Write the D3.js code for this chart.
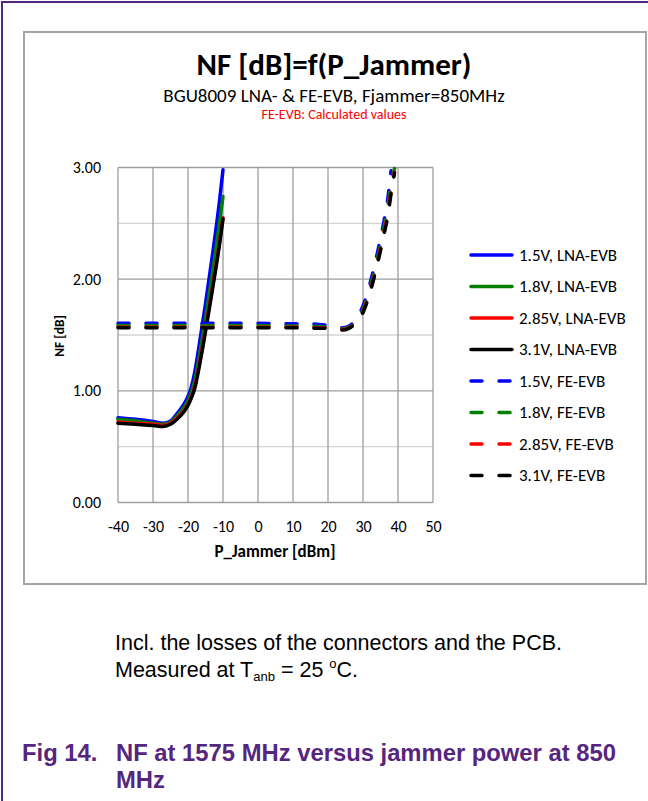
<!DOCTYPE html>
<html>
<head>
<meta charset="utf-8">
<script src="https://cdn.jsdelivr.net/npm/d3@7"></script>
<style>
  html, body { margin: 0; padding: 0; background: #fff; }
  svg { display: block; }
</style>
</head>
<body>
<svg id="chart" width="648" height="801"></svg>
<script>
// ---------- data ----------
const xTicks = [-40, -30, -20, -10, 0, 10, 20, 30, 40, 50];
const yTicks = [0, 1, 2, 3];
const yMinor = [0.5, 1.5, 2.5];

const lnaX = [-40, -35, -30, -27, -25, -23, -21, -20, -19, -18, -17, -15, -13, -11, -10];
const lna15 = [0.76, 0.745, 0.725, 0.71, 0.73, 0.80, 0.89, 0.95, 1.04, 1.18, 1.37, 1.78, 2.22, 2.70, 2.98];
const lna18 = [0.745, 0.73, 0.71, 0.70, 0.72, 0.78, 0.86, 0.91, 0.99, 1.10, 1.27, 1.65, 2.06, 2.50, 2.74];
const lna285 = [0.72, 0.71, 0.70, 0.69, 0.71, 0.76, 0.83, 0.88, 0.95, 1.05, 1.20, 1.55, 1.93, 2.33, 2.55];
const lna31 = [0.71, 0.70, 0.69, 0.68, 0.70, 0.75, 0.82, 0.87, 0.94, 1.03, 1.18, 1.53, 1.91, 2.31, 2.54];

const feX = [-40, -30, -20, -10, 0, 10, 15, 20, 24, 26, 28, 30, 32, 34, 36, 37, 38, 39];
const fe15 = [1.605, 1.605, 1.605, 1.605, 1.605, 1.60, 1.60, 1.585, 1.565, 1.58, 1.64, 1.76, 1.96, 2.22, 2.52, 2.70, 2.97, null];
const fe18 = [1.585, 1.585, 1.585, 1.585, 1.585, 1.58, 1.58, 1.57, 1.555, 1.57, 1.62, 1.73, 1.92, 2.17, 2.46, 2.64, 2.84, 2.99];
const fe285 = [1.57, 1.57, 1.57, 1.57, 1.57, 1.57, 1.565, 1.565, 1.55, 1.565, 1.615, 1.71, 1.89, 2.13, 2.42, 2.57, 2.78, 2.96];
const fe31 = [1.565, 1.565, 1.565, 1.565, 1.565, 1.565, 1.56, 1.56, 1.545, 1.56, 1.61, 1.70, 1.88, 2.12, 2.40, 2.55, 2.76, 2.95];

const seriesNames = ["1.5V, LNA-EVB", "1.8V, LNA-EVB", "2.85V, LNA-EVB", "3.1V, LNA-EVB",
                     "1.5V, FE-EVB", "1.8V, FE-EVB", "2.85V, FE-EVB", "3.1V, FE-EVB"];
const seriesColors = ["#0000ff", "#008000", "#ff0000", "#000000",
                      "#0000ff", "#008000", "#ff0000", "#000000"];

const series = [
  { name: seriesNames[0], x: lnaX, y: lna15, color: seriesColors[0], dashed: false },
  { name: seriesNames[1], x: lnaX, y: lna18, color: seriesColors[1], dashed: false },
  { name: seriesNames[2], x: lnaX, y: lna285, color: seriesColors[2], dashed: false },
  { name: seriesNames[3], x: lnaX, y: lna31, color: seriesColors[3], dashed: false },
  { name: seriesNames[4], x: feX, y: fe15, color: seriesColors[4], dashed: true },
  { name: seriesNames[5], x: feX, y: fe18, color: seriesColors[5], dashed: true },
  { name: seriesNames[6], x: feX, y: fe285, color: seriesColors[6], dashed: true },
  { name: seriesNames[7], x: feX, y: fe31, color: seriesColors[7], dashed: true }
];

// ---------- layout ----------
const svg = d3.select("#chart");
const FONT = "Carlito, Calibri, Lato, sans-serif";
const purple = "#56267f";

// outer page frame (left + top purple rules)
svg.append("line").attr("x1", 2).attr("x2", 2).attr("y1", 1).attr("y2", 801)
  .attr("stroke", purple).attr("stroke-width", 2);
svg.append("line").attr("x1", 1).attr("x2", 648).attr("y1", 2).attr("y2", 2)
  .attr("stroke", purple).attr("stroke-width", 2);

// chart box
svg.append("rect").attr("x", 24).attr("y", 32).attr("width", 622).attr("height", 552)
  .attr("fill", "#fff").attr("stroke", "#a6a6a6").attr("stroke-width", 2);

// titles
svg.append("text").attr("x", 334).attr("y", 75).attr("text-anchor", "middle")
  .attr("font-family", FONT).attr("font-weight", "bold").attr("font-size", 31)
  .attr("fill", "#000").text("NF [dB]=f(P_Jammer)");
svg.append("text").attr("x", 334).attr("y", 102).attr("text-anchor", "middle")
  .attr("font-family", FONT).attr("font-size", 19)
  .attr("fill", "#000").text("BGU8009 LNA- & FE-EVB, Fjammer=850MHz");
svg.append("text").attr("x", 334).attr("y", 118.5).attr("text-anchor", "middle")
  .attr("font-family", FONT).attr("font-size", 14)
  .attr("fill", "#ff0000").text("FE-EVB: Calculated values");

// scales
const x = d3.scaleLinear().domain([-40, 50]).range([118, 433]);
const y = d3.scaleLinear().domain([0, 3]).range([502.5, 167.5]);

// grid
const grid = svg.append("g");
grid.selectAll("line.minor").data(yMinor).join("line")
  .attr("x1", x(-40)).attr("x2", x(50)).attr("y1", d => y(d)).attr("y2", d => y(d))
  .attr("stroke", "#d4d4d4").attr("stroke-width", 1.3);
grid.selectAll("line.hmajor").data(yTicks).join("line")
  .attr("x1", x(-40)).attr("x2", x(50)).attr("y1", d => y(d)).attr("y2", d => y(d))
  .attr("stroke", "#9e9e9e").attr("stroke-width", 1.3);
grid.selectAll("line.vmajor").data(xTicks).join("line")
  .attr("x1", d => x(d)).attr("x2", d => x(d)).attr("y1", y(0)).attr("y2", y(3))
  .attr("stroke", "#9e9e9e").attr("stroke-width", 1.3);

// axes
const yAxis = svg.append("g").attr("transform", `translate(${x(-40)},0)`)
  .call(d3.axisLeft(y).tickValues(yTicks).tickFormat(d3.format(".2f")).tickSize(0).tickPadding(17));
yAxis.select(".domain").remove();
yAxis.selectAll("text").attr("font-family", FONT).attr("font-size", 16).attr("fill", "#000");

const xAxis = svg.append("g").attr("transform", `translate(0,${y(0)})`)
  .call(d3.axisBottom(x).tickValues(xTicks).tickFormat(d => String(d)).tickSize(0).tickPadding(18));
xAxis.select(".domain").remove();
xAxis.selectAll("text").attr("font-family", FONT).attr("font-size", 16).attr("fill", "#000");

// axis titles
svg.append("text").attr("transform", "translate(64,336) rotate(-90)")
  .attr("text-anchor", "middle").attr("font-family", FONT).attr("font-weight", "bold")
  .attr("font-size", 13.5).text("NF [dB]");
svg.append("text").attr("x", 275).attr("y", 557).attr("text-anchor", "middle")
  .attr("font-family", FONT).attr("font-weight", "bold").attr("font-size", 17)
  .text("P_Jammer [dBm]");

// lines
const dashPattern = "11,17";
const lineGen = d3.line()
  .defined(d => d[1] != null)
  .x(d => x(d[0])).y(d => y(d[1]))
  .curve(d3.curveMonotoneX);

const plot = svg.append("g");
series.forEach(s => {
  const pts = s.x.map((xv, i) => [xv, s.y[i]]);
  plot.append("path")
    .datum(pts)
    .attr("d", lineGen)
    .attr("fill", "none")
    .attr("stroke", s.color)
    .attr("stroke-width", 3.5)
    .attr("stroke-linecap", "round")
    .attr("stroke-linejoin", "round")
    .attr("stroke-dasharray", s.dashed ? dashPattern : null);
});

// legend
const legend = svg.append("g");
series.forEach((s, i) => {
  const ly = 255 + i * 31.5;
  legend.append("line")
    .attr("x1", 471).attr("x2", 512).attr("y1", ly).attr("y2", ly)
    .attr("stroke", s.color).attr("stroke-width", 3.5)
    .attr("stroke-linecap", "round")
    .attr("stroke-dasharray", s.dashed ? "11,17" : null);
  legend.append("text")
    .attr("x", 519).attr("y", ly).attr("dy", "0.35em")
    .attr("font-family", FONT).attr("font-size", 17)
    .attr("fill", "#000").text(s.name);
});

// caption text
const AR = "'Liberation Sans', Arial, sans-serif";
svg.append("text").attr("x", 115).attr("y", 650)
  .attr("font-family", AR).attr("font-size", 21.5).attr("fill", "#000")
  .text("Incl. the losses of the connectors and the PCB.");
const t2 = svg.append("text").attr("x", 115).attr("y", 677)
  .attr("font-family", AR).attr("font-size", 21.5).attr("fill", "#000");
t2.append("tspan").text("Measured at T");
t2.append("tspan").attr("font-size", 13).attr("dy", 4).text("anb");
t2.append("tspan").attr("dy", -4).text(" = 25 ");
t2.append("tspan").attr("font-size", 13).attr("dy", -9).text("o");
t2.append("tspan").attr("dy", 9).text("C.");

svg.append("text").attr("x", 22).attr("y", 761)
  .attr("font-family", AR).attr("font-weight", "bold").attr("font-size", 23.8).attr("fill", purple)
  .text("Fig 14.");
svg.append("text").attr("x", 116).attr("y", 761)
  .attr("font-family", AR).attr("font-weight", "bold").attr("font-size", 23.8).attr("fill", purple)
  .text("NF at 1575 MHz versus jammer power at 850");
svg.append("text").attr("x", 116).attr("y", 788)
  .attr("font-family", AR).attr("font-weight", "bold").attr("font-size", 23.8).attr("fill", purple)
  .text("MHz");
</script>
</body>
</html>
